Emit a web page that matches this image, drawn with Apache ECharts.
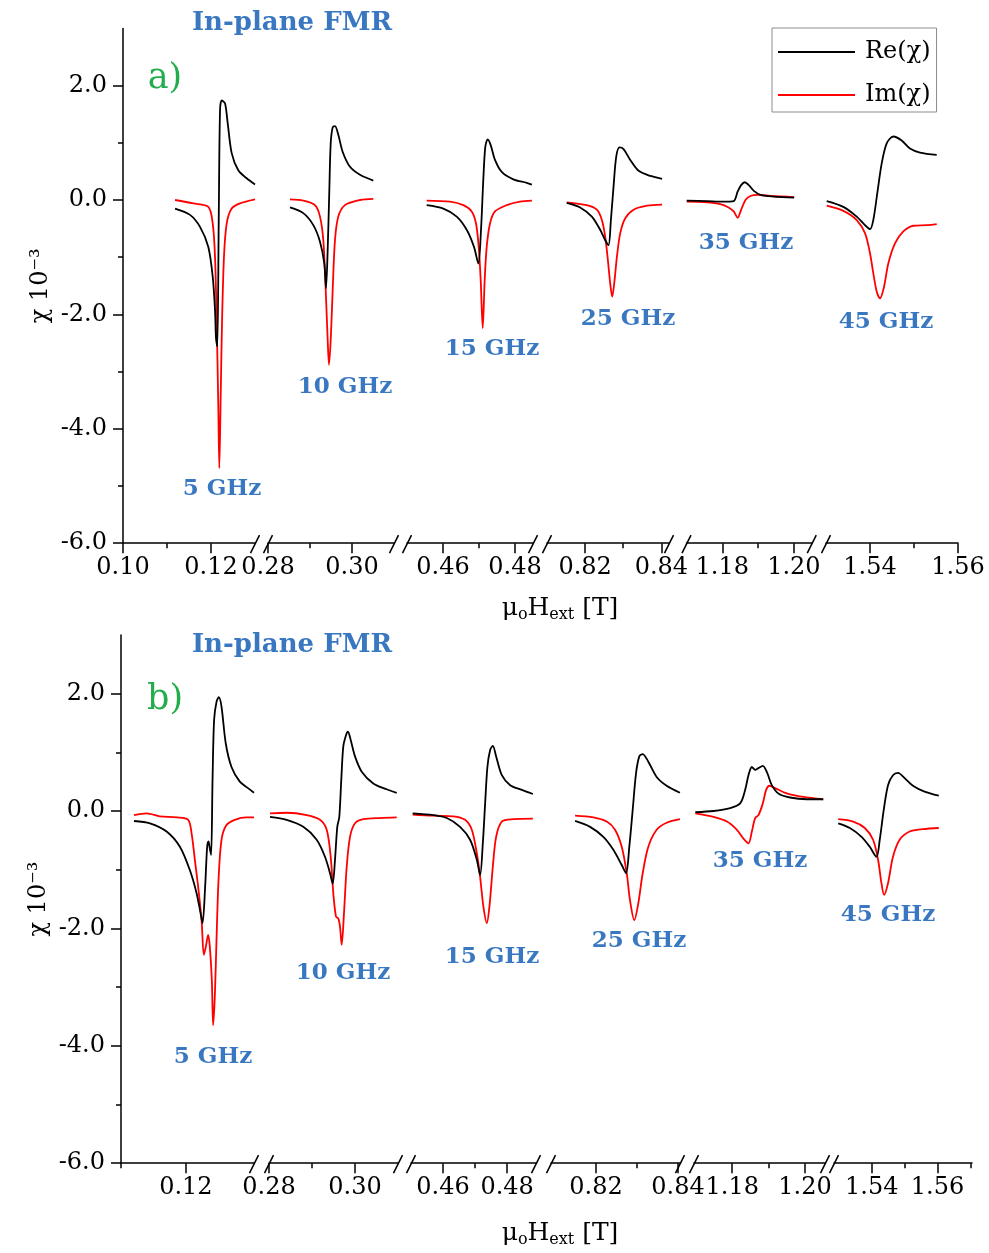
<!DOCTYPE html>
<html>
<head>
<meta charset="utf-8">
<script src="https://cdn.jsdelivr.net/npm/echarts@6/dist/echarts.min.js"></script>
<style>
  html, body { margin: 0; padding: 0; background: #ffffff; }
  #chart { width: 989px; height: 1253px; }
</style>
</head>
<body>
<div id="chart"></div>
<script>
// Field in tesla, susceptibility in units of 1e-3.
// ---- panel a) ----
const re5a = [[0.11182,-0.15],[0.11523,-0.26],[0.11750,-0.47],[0.11939,-0.82],[0.12039,-1.34],[0.12091,-1.92],[0.12114,-2.42],[0.12143,-2.56],[0.12175,-0.41],[0.12205,1.57],[0.12243,1.74],[0.12318,1.69],[0.12380,1.34],[0.12470,0.82],[0.12620,0.52],[0.12811,0.38],[0.13000,0.27]];
const im5a = [[0.11182,0.00],[0.11598,-0.06],[0.11939,-0.12],[0.12039,-0.41],[0.12091,-0.99],[0.12130,-2.16],[0.12166,-3.61],[0.12189,-4.69],[0.12220,-3.44],[0.12250,-2.16],[0.12295,-0.99],[0.12357,-0.41],[0.12470,-0.15],[0.12659,-0.06],[0.13000,0.01]];
const re10a = [[0.28524,-0.13],[0.28840,-0.23],[0.29079,-0.44],[0.29238,-0.73],[0.29340,-1.11],[0.29381,-1.54],[0.29421,-0.87],[0.29460,0.17],[0.29493,0.99],[0.29540,1.27],[0.29595,1.29],[0.29674,1.14],[0.29779,0.84],[0.29952,0.58],[0.30190,0.44],[0.30507,0.34]];
const im10a = [[0.28524,0.01],[0.28840,-0.01],[0.29119,-0.09],[0.29238,-0.29],[0.29317,-0.70],[0.29374,-1.57],[0.29421,-2.45],[0.29452,-2.88],[0.29493,-2.45],[0.29540,-1.57],[0.29595,-0.70],[0.29674,-0.29],[0.29833,-0.09],[0.30190,0.00],[0.30507,0.02]];
const re15a = [[0.45547,-0.09],[0.46008,-0.15],[0.46381,-0.29],[0.46658,-0.52],[0.46861,-0.82],[0.46981,-1.11],[0.47056,-0.52],[0.47119,0.35],[0.47175,0.93],[0.47242,1.06],[0.47325,0.96],[0.47444,0.70],[0.47631,0.49],[0.47953,0.36],[0.48325,0.30],[0.48470,0.27]];
const im15a = [[0.45547,-0.01],[0.46194,-0.03],[0.46564,-0.09],[0.46797,-0.20],[0.46917,-0.41],[0.46992,-0.82],[0.47047,-1.40],[0.47103,-2.24],[0.47158,-1.40],[0.47214,-0.82],[0.47306,-0.41],[0.47444,-0.20],[0.47769,-0.09],[0.48139,-0.03],[0.48470,-0.01]];
const re25a = [[0.81518,-0.05],[0.81868,-0.13],[0.82176,-0.29],[0.82395,-0.52],[0.82526,-0.70],[0.82613,-0.79],[0.82676,-0.35],[0.82745,0.23],[0.82816,0.76],[0.82903,0.92],[0.83008,0.89],[0.83184,0.70],[0.83403,0.51],[0.83711,0.42],[0.84018,0.37]];
const im25a = [[0.81518,-0.04],[0.82045,-0.09],[0.82308,-0.17],[0.82439,-0.35],[0.82526,-0.64],[0.82597,-1.05],[0.82658,-1.46],[0.82711,-1.69],[0.82763,-1.46],[0.82834,-0.99],[0.82921,-0.58],[0.83053,-0.32],[0.83271,-0.17],[0.83624,-0.10],[0.84018,-0.08]];
const re35a = [[1.17006,-0.01],[1.17569,-0.02],[1.18037,-0.03],[1.18318,-0.02],[1.18431,0.15],[1.18527,0.26],[1.18628,0.31],[1.18741,0.26],[1.18882,0.16],[1.19070,0.09],[1.19445,0.06],[1.20008,0.04]];
const im35a = [[1.17006,-0.03],[1.17569,-0.04],[1.17944,-0.07],[1.18177,-0.13],[1.18318,-0.20],[1.18431,-0.31],[1.18527,-0.17],[1.18648,0.00],[1.18789,0.07],[1.18977,0.09],[1.19352,0.07],[1.20008,0.05]];
const re45a = [[1.53016,-0.02],[1.53393,-0.12],[1.53698,-0.29],[1.53886,-0.44],[1.54000,-0.51],[1.54075,-0.35],[1.54166,0.12],[1.54266,0.64],[1.54380,0.99],[1.54530,1.11],[1.54720,1.04],[1.54909,0.90],[1.55136,0.83],[1.55516,0.79]];
const im45a = [[1.53016,-0.10],[1.53393,-0.19],[1.53698,-0.35],[1.53886,-0.58],[1.54000,-0.93],[1.54075,-1.28],[1.54152,-1.60],[1.54227,-1.72],[1.54318,-1.52],[1.54416,-1.11],[1.54568,-0.76],[1.54757,-0.55],[1.54984,-0.45],[1.55289,-0.44],[1.55516,-0.42]];

// ---- panel b) ----
const re5b = [[0.11200,-0.17],[0.11446,-0.21],[0.11703,-0.35],[0.11908,-0.61],[0.12062,-1.01],[0.12165,-1.40],[0.12226,-1.74],[0.12257,-1.91],[0.12297,-1.29],[0.12328,-0.61],[0.12349,-0.52],[0.12369,-0.64],[0.12389,-0.75],[0.12411,0.53],[0.12435,1.55],[0.12472,1.86],[0.12508,1.94],[0.12549,1.78],[0.12615,1.15],[0.12703,0.75],[0.12831,0.50],[0.12958,0.39],[0.13050,0.31]];
const im5b = [[0.11200,-0.07],[0.11395,-0.04],[0.11600,-0.09],[0.11857,-0.11],[0.12035,-0.15],[0.12088,-0.38],[0.12138,-0.83],[0.12189,-1.29],[0.12242,-1.86],[0.12277,-2.45],[0.12308,-2.31],[0.12343,-2.11],[0.12369,-2.31],[0.12400,-2.88],[0.12420,-3.65],[0.12446,-3.16],[0.12472,-2.20],[0.12503,-1.18],[0.12549,-0.49],[0.12626,-0.24],[0.12754,-0.15],[0.12934,-0.11],[0.13050,-0.11]];
const re10b = [[0.28023,-0.10],[0.28412,-0.15],[0.28798,-0.27],[0.29109,-0.49],[0.29302,-0.78],[0.29419,-1.06],[0.29481,-1.24],[0.29535,-0.83],[0.29588,-0.27],[0.29635,-0.10],[0.29681,0.53],[0.29728,1.10],[0.29791,1.29],[0.29837,1.35],[0.29900,1.21],[0.30000,0.93],[0.30156,0.67],[0.30426,0.47],[0.30737,0.37],[0.30970,0.31]];
const im10b = [[0.28023,-0.04],[0.28412,-0.03],[0.28877,-0.07],[0.29186,-0.15],[0.29342,-0.32],[0.29435,-0.78],[0.29495,-1.40],[0.29558,-1.80],[0.29612,-1.83],[0.29651,-1.97],[0.29691,-2.28],[0.29744,-1.74],[0.29807,-0.95],[0.29884,-0.44],[0.30000,-0.21],[0.30195,-0.14],[0.30581,-0.12],[0.30970,-0.11]];
const re15b = [[0.45053,-0.04],[0.45697,-0.07],[0.46116,-0.12],[0.46531,-0.27],[0.46844,-0.49],[0.47053,-0.83],[0.47156,-1.09],[0.47241,-0.55],[0.47313,0.13],[0.47384,0.75],[0.47469,1.04],[0.47553,1.11],[0.47656,0.93],[0.47834,0.61],[0.48094,0.44],[0.48459,0.36],[0.48803,0.29]];
const im15b = [[0.45053,-0.06],[0.45697,-0.08],[0.46322,-0.09],[0.46688,-0.15],[0.46897,-0.32],[0.47053,-0.72],[0.47156,-1.12],[0.47259,-1.63],[0.47366,-1.91],[0.47447,-1.63],[0.47553,-0.95],[0.47656,-0.44],[0.47834,-0.18],[0.48197,-0.14],[0.48803,-0.13]];
const re25b = [[0.81488,-0.17],[0.81854,-0.27],[0.82178,-0.44],[0.82422,-0.66],[0.82627,-0.92],[0.82732,-1.06],[0.82812,-0.61],[0.82895,0.02],[0.82976,0.64],[0.83056,0.93],[0.83139,0.97],[0.83276,0.84],[0.83480,0.58],[0.83724,0.43],[0.84049,0.31]];
const im25b = [[0.81488,-0.08],[0.81934,-0.11],[0.82261,-0.18],[0.82463,-0.32],[0.82627,-0.61],[0.82749,-1.06],[0.82829,-1.52],[0.82934,-1.86],[0.83032,-1.57],[0.83139,-1.06],[0.83276,-0.61],[0.83480,-0.32],[0.83724,-0.20],[0.84049,-0.14]];
const re35b = [[1.16986,-0.02],[1.17488,0.00],[1.17945,0.05],[1.18219,0.13],[1.18356,0.36],[1.18447,0.61],[1.18540,0.75],[1.18630,0.70],[1.18721,0.73],[1.18841,0.77],[1.18967,0.64],[1.19088,0.44],[1.19268,0.30],[1.19589,0.23],[1.20047,0.20],[1.20501,0.20]];
const im35b = [[1.16986,-0.04],[1.17488,-0.10],[1.17855,-0.18],[1.18129,-0.32],[1.18310,-0.47],[1.18447,-0.55],[1.18540,-0.35],[1.18630,-0.12],[1.18721,-0.07],[1.18841,0.13],[1.18932,0.36],[1.19022,0.43],[1.19178,0.39],[1.19499,0.30],[1.19953,0.24],[1.20501,0.20]];
const re45b = [[1.52979,-0.21],[1.53333,-0.29],[1.53688,-0.44],[1.53939,-0.61],[1.54142,-0.78],[1.54242,-0.49],[1.54364,0.02],[1.54494,0.44],[1.54645,0.61],[1.54797,0.65],[1.55000,0.56],[1.55252,0.43],[1.55606,0.33],[1.56039,0.26]];
const im45b = [[1.52979,-0.14],[1.53433,-0.18],[1.53788,-0.29],[1.54039,-0.49],[1.54191,-0.83],[1.54294,-1.23],[1.54373,-1.43],[1.54494,-1.23],[1.54645,-0.78],[1.54848,-0.49],[1.55152,-0.35],[1.55555,-0.31],[1.56039,-0.29]];

// Broken field axis: one range per segment, with its ticks.
const segRangesA = [[0.10,0.13],[0.28,0.31],[0.45,0.485],[0.81,0.842],[1.17,1.205],[1.53,1.56]];
const majorTicksA = [[0.10,0.12],[0.28,0.30],[0.46,0.48],[0.82,0.84],[1.18,1.20],[1.54,1.56]];
const minorTicksA = [[0.11],[0.29],[0.47],[0.83],[1.19],[1.55]];
const segRangesB = [[0.11,0.1305],[0.28,0.31],[0.45,0.489],[0.809,0.8405],[1.1695,1.2055],[1.5285,1.5705]];
const majorTicksB = [[0.12],[0.28,0.30],[0.46,0.48],[0.82,0.84],[1.18,1.20],[1.54,1.56]];
const minorTicksB = [[0.11],[0.29],[0.47],[0.83],[1.19],[1.55,1.57]];
const yMajorTicks = [-6,-4,-2,0,2];
const yMinorTicks = [-5,-3,-1,1];
const frequencies = ['5 GHz','10 GHz','15 GHz','25 GHz','35 GHz','45 GHz'];
const panelTags = ['a)','b)'];
const panelTitle = 'In-plane FMR';
const reName = 'Re(χ)';
const imName = 'Im(χ)';

const panelData = [
  { re: [re5a, re10a, re15a, re25a, re35a, re45a], im: [im5a, im10a, im15a, im25a, im35a, im45a],
    ranges: segRangesA, major: majorTicksA, minor: minorTicksA },
  { re: [re5b, re10b, re15b, re25b, re35b, re45b], im: [im5b, im10b, im15b, im25b, im35b, im45b],
    ranges: segRangesB, major: majorTicksB, minor: minorTicksB }
];

// Page layout (pixels)
const layout = [
  { top: 28.4, height: 514.8,
    seg: [[123,255],[268,394],[407,533],[547,669],[686.5,811.75],[826,958]],
    title: [292,23], tag: [165,79], xName: [560,608],
    freqPos: [[222,489],[345,387],[492,349],[628,319],[746,243],[886,322]] },
  { top: 634.9, height: 528.3,
    seg: [[121,254],[269,398],[411,536],[551,680],[694,825],[834,972]],
    title: [292,645], tag: [165,700], xName: [560,1233],
    freqPos: [[213,1057],[343,973],[492,957],[639,941],[760,861],[888,915]] }
];

const SERIF = 'DejaVu Serif';
const BLUE = '#3978c0';
const GREEN = '#22ad4c';
const axisColor = '#000';

const grid = [], xAxis = [], yAxis = [], series = [];
const yMainIndex = [], xMajorIndex = [];

layout.forEach((L, p) => {
  const D = panelData[p];
  xMajorIndex.push([]);
  for (let s = 0; s < 6; s++) {
    const g = grid.length;
    grid.push({ left: L.seg[s][0], width: L.seg[s][1] - L.seg[s][0], top: L.top, height: L.height,
                containLabel: false, outerBoundsMode: 'none' });
    const [mn, mx] = D.ranges[s];
    const xi = xAxis.length;
    xMajorIndex[p].push(xi);
    xAxis.push({
      gridIndex: g, type: 'value', position: 'bottom', min: mn, max: mx,
      axisLine: { show: true, onZero: false, lineStyle: { color: axisColor, width: 1.5 } },
      axisTick: { show: true, length: 10, customValues: D.major[s], lineStyle: { color: axisColor, width: 1.5 } },
      axisLabel: { show: true, customValues: D.major[s], formatter: v => v.toFixed(2),
                   fontFamily: SERIF, fontSize: 24, color: '#000', margin: 13 },
      splitLine: { show: false }
    });
    xAxis.push({
      gridIndex: g, type: 'value', position: 'bottom', min: mn, max: mx,
      axisLine: { show: false, onZero: false },
      axisTick: { show: true, length: 5, customValues: D.minor[s], lineStyle: { color: axisColor, width: 1.5 } },
      axisLabel: { show: false },
      splitLine: { show: false }
    });
    let yi;
    if (s === 0) {
      yi = yAxis.length;
      yMainIndex.push(yi);
      yAxis.push({
        gridIndex: g, type: 'value', position: 'left', min: -6, max: 3,
        axisLine: { show: true, onZero: false, lineStyle: { color: axisColor, width: 1.5 } },
        axisTick: { show: true, length: 10, customValues: yMajorTicks, lineStyle: { color: axisColor, width: 1.5 } },
        axisLabel: { show: true, customValues: yMajorTicks, formatter: v => v.toFixed(1),
                     fontFamily: SERIF, fontSize: 24, color: '#000', margin: 16 },
        splitLine: { show: false },
        name: 'χ 10⁻³', nameLocation: 'middle', nameRotate: 90, nameGap: 70,
        nameTextStyle: { fontFamily: SERIF, fontSize: 24, color: '#000' }
      });
      yAxis.push({
        gridIndex: g, type: 'value', position: 'left', min: -6, max: 3,
        axisLine: { show: false, onZero: false },
        axisTick: { show: true, length: 5, customValues: yMinorTicks, lineStyle: { color: axisColor, width: 1.5 } },
        axisLabel: { show: false },
        splitLine: { show: false }
      });
    } else {
      yi = yAxis.length;
      yAxis.push({ gridIndex: g, type: 'value', min: -6, max: 3, show: false,
                   axisLine: { onZero: false }, splitLine: { show: false } });
    }
    const common = { type: 'line', xAxisIndex: xi, yAxisIndex: yi, symbol: 'none', showSymbol: false,
                     smooth: 0.3, clip: true, silent: true };
    series.push(Object.assign({}, common, { name: imName, data: D.im[s],
      lineStyle: { color: '#ff0000', width: 1.8, join: 'round' }, itemStyle: { color: '#ff0000' } }));
    series.push(Object.assign({}, common, { name: reName, data: D.re[s],
      lineStyle: { color: '#000000', width: 1.8, join: 'round' }, itemStyle: { color: '#000000' } }));
  }
});

// Text annotations
const texts = [];
layout.forEach((L, p) => {
  texts.push({ type: 'text', x: L.title[0], y: L.title[1], silent: true,
    style: { text: panelTitle, fill: BLUE, font: 'bold 26px "DejaVu Serif"',
             align: 'center', verticalAlign: 'middle', textAlign: 'center', textVerticalAlign: 'middle' } });
  texts.push({ type: 'text', x: L.tag[0], y: L.tag[1], silent: true,
    style: { text: panelTags[p], fill: GREEN, font: '35px "DejaVu Serif"',
             align: 'center', verticalAlign: 'middle', textAlign: 'center', textVerticalAlign: 'middle' } });
  frequencies.forEach((f, i) => {
    texts.push({ type: 'text', x: L.freqPos[i][0], y: L.freqPos[i][1], silent: true,
      style: { text: f, fill: BLUE, font: 'bold 23px "DejaVu Serif"',
               align: 'center', verticalAlign: 'middle', textAlign: 'center', textVerticalAlign: 'middle' } });
  });
  texts.push({ type: 'text', x: L.xName[0], y: L.xName[1], silent: true,
    style: {
      text: '{m|μ}{s|o}{m|H}{s|ext}{m| [T]}',
      align: 'center', verticalAlign: 'middle', textAlign: 'center', textVerticalAlign: 'middle',
      fill: '#000',
      rich: {
        m: { fontFamily: SERIF, fontSize: 25, lineHeight: 28, fill: '#000' },
        s: { fontFamily: SERIF, fontSize: 16, lineHeight: 16, padding: [13, 0, 0, 0], fill: '#000' }
      }
    } });
});

const chart = echarts.init(document.getElementById('chart'), null, { renderer: 'canvas' });
chart.setOption({
  animation: false,
  backgroundColor: '#ffffff',
  grid, xAxis, yAxis, series,
  legend: {
    data: [{ name: reName, icon: 'path://M0 0H80V2H0Z' }, { name: imName, icon: 'path://M0 0H80V2H0Z' }],
    orient: 'vertical', left: 772, top: 28, padding: [9, 6, 2, 6],
    itemWidth: 77, itemHeight: 2, itemGap: 13, selectedMode: false,
    borderColor: '#8c8c8c', borderWidth: 1,
    textStyle: { fontFamily: SERIF, fontSize: 24, color: '#000', lineHeight: 30, padding: [0, 0, 0, 5] }
  },
  graphic: { elements: texts }
});

// Axis-break marks: a pair of slashes at each gap, placed from the axis scales.
const slashes = [];
layout.forEach((L, p) => {
  const D = panelData[p];
  const yPix = chart.convertToPixel({ yAxisIndex: yMainIndex[p] }, -6);
  for (let s = 0; s < 6; s++) {
    const xi = xMajorIndex[p][s];
    const ends = [];
    if (s > 0) ends.push(D.ranges[s][0]);
    if (s < 5) ends.push(D.ranges[s][1]);
    ends.forEach(v => {
      const xPix = chart.convertToPixel({ xAxisIndex: xi }, v);
      slashes.push({ type: 'line', silent: true,
        shape: { x1: xPix - 4.5, y1: yPix + 10, x2: xPix + 4.5, y2: yPix - 8 },
        style: { stroke: axisColor, lineWidth: 1.5 } });
    });
  }
});
chart.setOption({ graphic: { elements: texts.concat(slashes) } });
</script>
</body>
</html>
